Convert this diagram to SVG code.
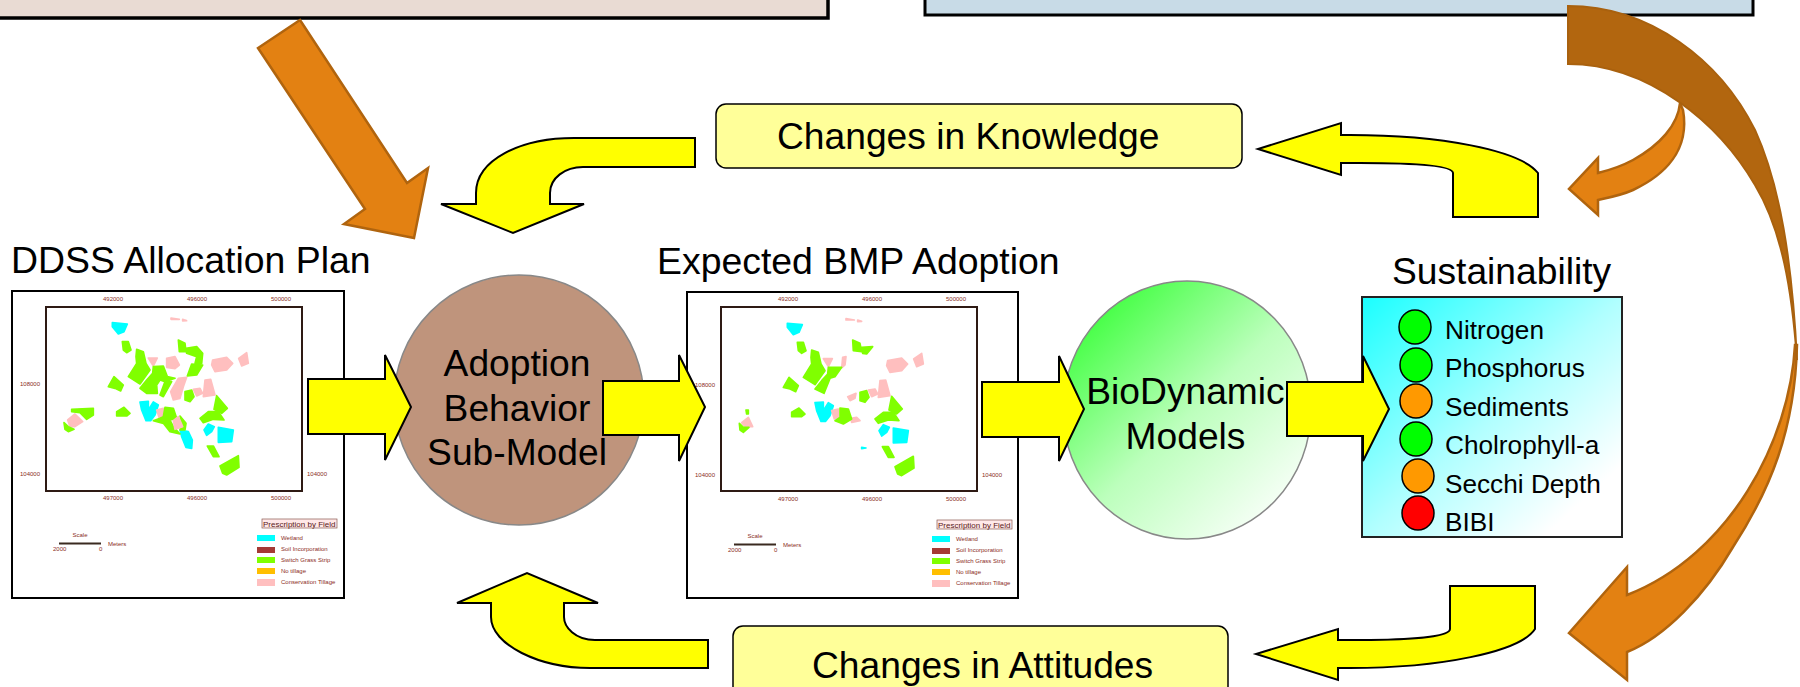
<svg xmlns="http://www.w3.org/2000/svg" width="1800" height="687" viewBox="0 0 1800 687">
<style>
text{font-family:"Liberation Sans",Arial,sans-serif;fill:#000}
.t37{font-size:37.2px}
.t36{font-size:37.4px}
.t26{font-size:26.2px}
.mid{text-anchor:middle}
.y{fill:#ff0;stroke:#000;stroke-width:2;stroke-linejoin:miter}
.o{fill:#e38112;stroke:#b0640e;stroke-width:2.5;stroke-linejoin:miter}
.d{fill:#b2660f;stroke:#a9610e;stroke-width:2}
.lbl{fill:#ffff99;stroke:#000;stroke-width:1.5}
.frame{fill:#fff;stroke:#000;stroke-width:2}
.mapb{fill:#fff;stroke:#2e1a14;stroke-width:2}
.m{font-size:6px;fill:#8a2d1c}
.mc{font-size:6px;fill:#8a2d1c;text-anchor:middle}
.lg{font-size:8px;fill:#5a2018}
.c{fill:#0ff;stroke:#0ff}.p{fill:#ffbfbf;stroke:#ffbfbf}.g{fill:#80ff00;stroke:#80ff00}
.c,.p,.g{stroke-width:5;stroke-linejoin:round}
.dot{stroke:#000;stroke-width:1.5}
.gr{fill:#0f0}.or{fill:#f90}.re{fill:#f00}
</style>
<defs>
<linearGradient id="bio" x1="0.1" y1="0.1" x2="0.9" y2="0.95"><stop offset="0" stop-color="#3cff3c"/><stop offset="0.5" stop-color="#bcffbc"/><stop offset="1" stop-color="#ffffff"/></linearGradient>
<linearGradient id="teal" x1="0" y1="0" x2="1" y2="1"><stop offset="0" stop-color="#1affff"/><stop offset="0.5" stop-color="#b0ffff"/><stop offset="0.85" stop-color="#ffffff"/><stop offset="1" stop-color="#ffffff"/></linearGradient>
</defs>

<g id="box-top-left"><rect x="-3" y="-10" width="831" height="28" fill="#e9dbd3" stroke="#000" stroke-width="3.5"/></g>
<g id="box-top-right"><rect x="925" y="-10" width="828" height="25" fill="#c8dbe7" stroke="#000" stroke-width="3"/></g>

<g id="node-ddss">
<text class="t36" x="11" y="273">DDSS Allocation Plan</text>
<rect class="frame" x="12" y="291" width="332" height="307"/>
<rect class="mapb" x="46" y="307" width="256" height="184"/>
<g transform="translate(0 230) scale(.33333)">
<polygon class="c" points="337,278 382,282 372,305 355,312 337,290"/>
<polygon class="c" points="420,516 445,514 445,540 460,516 475,525 465,555 452,572 438,572 425,540"/>
<polygon class="c" points="540,600 565,605 577,630 575,655 558,652 545,620"/>
<polygon class="c" points="612,600 625,582 643,590 635,605 620,616"/>
<polygon class="c" points="655,592 700,600 695,635 655,637"/>
<polygon class="p" points="513,264 538,268 513,268"/>
<polygon class="p" points="548,268 560,272 548,273"/>
<polygon class="p" points="445,384 472,384 460,408"/>
<polygon class="p" points="500,385 525,380 538,405 525,416 500,412"/>
<polygon class="p" points="638,390 680,382 698,400 680,420 645,425 635,405"/>
<polygon class="p" points="716,385 740,368 745,400 725,408"/>
<polygon class="p" points="535,445 560,442 550,470 540,505 520,510 512,485"/>
<polygon class="p" points="580,478 600,475 608,490 590,498"/>
<polygon class="p" points="615,450 632,448 645,495 610,500"/>
<polygon class="p" points="203,570 225,552 248,575 225,590 210,590"/>
<polygon class="p" points="470,540 490,535 490,560 478,565"/>
<polygon class="g" points="367,335 385,335 393,360 380,368 370,360"/>
<polygon class="g" points="535,330 555,340 558,365 538,365"/>
<polygon class="g" points="558,355 590,350 608,370 605,400 585,400 590,380 560,370"/>
<polygon class="g" points="575,402 608,405 590,435 562,438"/>
<polygon class="g" points="410,358 430,365 438,400 450,420 420,462 385,440 410,400 408,380"/>
<polygon class="g" points="460,410 490,408 502,440 525,445 495,455 480,450 470,465 472,490 440,490 420,475 440,450 458,430"/>
<polygon class="g" points="495,455 515,455 490,500 480,495"/>
<polygon class="g" points="342,440 370,465 362,483 345,475 325,470"/>
<polygon class="g" points="215,538 280,535 280,555 260,568 240,548 215,545"/>
<polygon class="g" points="192,578 205,590 222,598 205,605 195,598"/>
<polygon class="g" points="350,545 372,532 390,550 380,558 350,558"/>
<polygon class="g" points="495,532 520,535 530,565 510,570 520,590 540,612 510,605 490,580 460,572 480,565 490,560"/>
<polygon class="g" points="540,558 558,580 555,600 540,600 545,580"/>
<polygon class="p" points="520,572 535,560 548,590 525,598"/>
<polygon class="g" points="555,485 575,480 582,500 570,515 555,510"/>
<polygon class="g" points="650,497 682,535 665,550 642,538"/>
<polygon class="g" points="600,565 625,545 655,545 672,570 640,568 610,578"/>
<polygon class="g" points="622,648 640,648 657,680 640,680"/>
<polygon class="g" points="660,708 715,677 717,712 680,735 668,730"/>
</g>
<text class="mc" x="113" y="301">492000</text><text class="mc" x="197" y="301">496000</text><text class="mc" x="281" y="301">500000</text>
<text class="mc" x="113" y="500">497000</text><text class="mc" x="197" y="500">496000</text><text class="mc" x="281" y="500">500000</text>
<text class="m" x="20" y="386">108000</text><text class="m" x="20" y="476">104000</text><text class="m" x="307" y="476">104000</text>
<rect x="262" y="519" width="75" height="9" fill="#ffe8e8" stroke="#8a5a50" stroke-width=".7"/>
<text class="lg" x="263" y="526.500">Prescription by Field</text>
<rect x="257" y="535" width="18" height="6" fill="#0ff"/><rect x="257" y="547" width="18" height="6" fill="#a53a35"/><rect x="257" y="557" width="18" height="6" fill="#80ff00"/><rect x="257" y="568" width="18" height="6" fill="#ffbf00"/><rect x="257" y="579" width="18" height="7" fill="#ffbfbf"/>
<text class="m" x="281" y="540">Wetland</text><text class="m" x="281" y="551">Soil Incorporation</text><text class="m" x="281" y="562">Switch Grass Strip</text><text class="m" x="281" y="573">No tillage</text><text class="m" x="281" y="584">Conservation Tillage</text>
<text class="mc" x="80" y="537">Scale</text><text class="m" x="108" y="546">Meters</text><text class="m" x="53" y="551">2000</text><text class="m" x="99" y="551">0</text>
<rect x="59" y="542.500" width="42" height="2" fill="#3a2a20"/>
</g>

<g id="node-bmp">
<text class="t36" x="657" y="274">Expected BMP Adoption</text>
<rect class="frame" x="687" y="292" width="331" height="306"/>
<rect class="mapb" x="721" y="307" width="256" height="184"/>
<g transform="translate(680 230) scale(.33333)">
<polygon class="c" points="322,280 367,284 357,307 340,314 322,292"/>
<polygon class="c" points="405,518 430,516 430,542 445,518 460,527 450,557 437,574 423,574 410,542"/>
<polygon class="c" points="597,602 610,584 628,592 620,607 605,618"/>
<polygon class="c" points="640,594 685,602 680,637 640,639"/>
<polygon class="c" points="545,652 558,654 545,656"/>
<polygon class="p" points="498,266 523,270 498,270"/>
<polygon class="p" points="533,270 545,274 533,275"/>
<polygon class="p" points="430,386 457,386 445,410"/>
<polygon class="p" points="488,382 498,380 495,405 485,414"/>
<polygon class="p" points="623,392 665,384 683,402 665,422 630,427 620,407"/>
<polygon class="p" points="701,387 725,370 730,402 710,410"/>
<polygon class="p" points="503,500 528,490 525,505 510,512"/>
<polygon class="p" points="565,480 585,477 593,492 575,500"/>
<polygon class="p" points="600,452 617,450 630,497 595,502"/>
<polygon class="p" points="185,578 205,562 218,590 195,590"/>
<polygon class="p" points="455,542 475,537 475,562 463,567"/>
<polygon class="p" points="512,565 530,562 540,572 515,577"/>
<polygon class="g" points="352,337 370,337 378,362 365,370 355,362"/>
<polygon class="g" points="518,330 540,340 545,365 520,362"/>
<polygon class="g" points="545,352 578,350 560,372 548,370"/>
<polygon class="g" points="395,360 415,367 423,402 435,422 405,464 370,442 395,402 393,382"/>
<polygon class="g" points="445,412 485,412 465,440 450,445 432,490 405,477 425,452 443,432"/>
<polygon class="g" points="327,442 355,467 347,485 330,477 310,472"/>
<polygon class="g" points="178,580 190,592 207,592 190,607 180,600"/>
<polygon class="g" points="198,540 205,540 205,552 200,552"/>
<polygon class="g" points="335,547 357,534 375,552 365,560 335,560"/>
<polygon class="g" points="480,534 505,537 515,567 490,582 465,572 480,562"/>
<polygon class="g" points="540,487 560,482 567,502 555,517 540,512"/>
<polygon class="g" points="635,499 667,537 650,552 627,540"/>
<polygon class="g" points="585,567 610,547 640,547 657,572 625,570 595,580"/>
<polygon class="g" points="607,650 625,650 642,682 625,682"/>
<polygon class="g" points="645,710 700,679 702,714 665,737 653,732"/>
</g>
<text class="mc" x="788" y="301">492000</text><text class="mc" x="872" y="301">496000</text><text class="mc" x="956" y="301">500000</text>
<text class="mc" x="788" y="501">497000</text><text class="mc" x="872" y="501">496000</text><text class="mc" x="956" y="501">500000</text>
<text class="m" x="695" y="387">108000</text><text class="m" x="695" y="477">104000</text><text class="m" x="982" y="477">104000</text>
<rect x="937" y="520" width="75" height="9" fill="#ffe8e8" stroke="#8a5a50" stroke-width=".7"/>
<text class="lg" x="938" y="527.500">Prescription by Field</text>
<rect x="932" y="536" width="18" height="6" fill="#0ff"/><rect x="932" y="548" width="18" height="6" fill="#a53a35"/><rect x="932" y="558" width="18" height="6" fill="#80ff00"/><rect x="932" y="569" width="18" height="6" fill="#ffbf00"/><rect x="932" y="580" width="18" height="7" fill="#ffbfbf"/>
<text class="m" x="956" y="541">Wetland</text><text class="m" x="956" y="552">Soil Incorporation</text><text class="m" x="956" y="563">Switch Grass Strip</text><text class="m" x="956" y="574">No tillage</text><text class="m" x="956" y="585">Conservation Tillage</text>
<text class="mc" x="755" y="538">Scale</text><text class="m" x="783" y="547">Meters</text><text class="m" x="728" y="552">2000</text><text class="m" x="774" y="552">0</text>
<rect x="734" y="543.500" width="42" height="2" fill="#3a2a20"/>
</g>

<g id="node-adoption">
<ellipse cx="519" cy="400" rx="125" ry="125" fill="#bf947c" stroke="#888" stroke-width="1.500"/>
<text class="t37 mid" x="517" y="376">Adoption</text><text class="t37 mid" x="517" y="421">Behavior</text><text class="t37 mid" x="517" y="465">Sub-Model</text>
</g>

<g id="node-biodynamic">
<ellipse cx="1187" cy="410" rx="124" ry="129" fill="url(#bio)" stroke="#888" stroke-width="1.500"/>
<text class="t37 mid" x="1185.500" y="404">BioDynamic</text><text class="t37 mid" x="1185.500" y="449">Models</text>
</g>

<g id="node-sustainability">
<text class="t37" x="1392" y="284">Sustainability</text>
<rect x="1362" y="297" width="260" height="240" fill="url(#teal)" stroke="#222" stroke-width="2"/>
<ellipse class="dot gr" cx="1415" cy="327" rx="16" ry="17"/><ellipse class="dot gr" cx="1416" cy="365" rx="16" ry="17"/><ellipse class="dot or" cx="1416" cy="401" rx="16" ry="17"/><ellipse class="dot gr" cx="1416" cy="439" rx="16" ry="17"/><ellipse class="dot or" cx="1418" cy="476" rx="16" ry="17"/><ellipse class="dot re" cx="1418" cy="513" rx="16" ry="17"/>
<text class="t26" x="1445" y="339">Nitrogen</text><text class="t26" x="1445" y="377">Phosphorus</text><text class="t26" x="1445" y="416">Sediments</text><text class="t26" x="1445" y="454">Cholrophyll-a</text><text class="t26" x="1445" y="493">Secchi Depth</text><text class="t26" x="1445" y="531">BIBI</text>
</g>

<g id="node-knowledge"><rect class="lbl" x="716" y="104" width="526" height="64" rx="10"/><text class="t37" x="777" y="149">Changes in Knowledge</text></g>
<g id="node-attitudes"><rect class="lbl" x="733" y="626" width="495" height="80" rx="10"/><text class="t37" x="812" y="678">Changes in Attitudes</text></g>

<g id="connectors">
<path class="o" d="M300 20L258 48L365 209L344 224L414 238L428 168L407 183Z"/>
<path class="y" d="M695 138H574C520 138 476 160 476 193V204H441L513 233L584 204H550V193C550 178 565 167 583 167H695Z"/>
<path class="y" d="M1453 217H1538V173C1520 150 1440 135 1350 135H1341V123L1258 149L1341 175V163H1360C1410 163 1453 165 1453 173Z"/>
<path class="y" d="M1450 586H1535V629C1520 652 1440 668 1350 668H1338V680L1256 654L1338 629V640H1360C1410 640 1450 637 1450 629Z"/>
<path class="y" d="M708 640H595C575 640 564 627 564 617V603H598L527 573L457 603H491V617C491 645 540 668 590 668H708Z"/>
<path class="y" d="M308 379H385V355L411 407L385 460V434H308Z"/>
<path class="y" d="M603 381H679V355L705 407L679 461V435H603Z"/>
<path class="y" d="M982 382H1059V356L1084 409L1059 461V437H982Z"/>
<path class="y" d="M1287 382H1363V356L1389 409L1363 461V436H1287Z"/>
<path class="o" d="M1680 103C1678 125 1660 145 1633 160C1620 167 1610 170 1598 173V158L1569 189L1598 215V200C1612 197 1622 195 1633 190C1665 175 1690 150 1683 110Z"/>
<path class="o" d="M1795 345C1790 440 1730 555 1627 595V567L1569 633L1627 680V652C1665 637 1705 595 1733 547C1770 490 1795 430 1797 345Z"/>
<path class="d" d="M1568 6C1650 6 1720 60 1755 130C1780 185 1792 260 1797 360C1792 290 1782 230 1755 185C1720 125 1650 64 1568 64Z"/>
</g>
</svg>
